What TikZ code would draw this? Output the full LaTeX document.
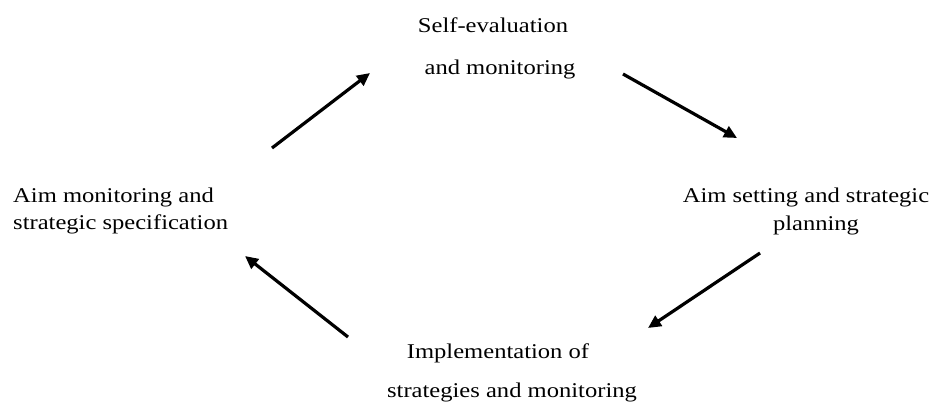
\documentclass[tikz,border=0pt]{standalone}
\usepackage{fontspec}
\setmainfont{Liberation Serif}[FakeStretch=1.17]
\usetikzlibrary{arrows.meta}
\begin{document}
\begin{tikzpicture}[x=1bp,y=-1bp,
  lbl/.style={anchor=base,inner sep=0pt,font=\fontsize{21bp}{25bp}\selectfont},
  lblw/.style={lbl,anchor=base west},
  cyc/.style={line width=3.2bp,-{Triangle[length=13bp,width=12bp]}}]
  % page frame
  \useasboundingbox (0,0) rectangle (935,401);
  % stage labels, one node per printed line
  \node[lbl] (top1) at (493,32) {Self-evaluation};
  \node[lbl] (top2) at (500,74) {and monitoring};
  \node[lbl] (rgt1) at (806,202) {Aim setting and strategic};
  \node[lbl] (rgt2) at (816,230) {planning};
  \node[lbl] (bot1) at (498,358) {Implementation of};
  \node[lbl] (bot2) at (512,397) {strategies and monitoring};
  \node[lblw] (lft1) at (13,202) {Aim monitoring and};
  \node[lblw] (lft2) at (13,229) {strategic specification};
  % arrow ends
  \coordinate (a1s) at (272,148); \coordinate (a1e) at (370,73);
  \coordinate (a2s) at (623,74);  \coordinate (a2e) at (737,138);
  \coordinate (a3s) at (760,253); \coordinate (a3e) at (648,328);
  \coordinate (a4s) at (348,337); \coordinate (a4e) at (245,256);
  % cycle arrows
  \draw[cyc] (a1s) -- (a1e);
  \draw[cyc] (a2s) -- (a2e);
  \draw[cyc] (a3s) -- (a3e);
  \draw[cyc] (a4s) -- (a4e);
\end{tikzpicture}
\end{document}
